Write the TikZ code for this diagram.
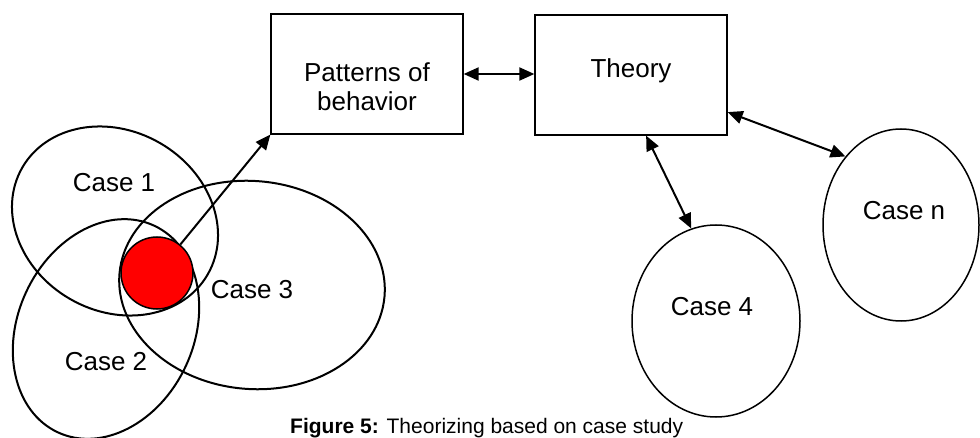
\documentclass[tikz,border=0pt]{standalone}
\usepackage{fontspec}
\setmainfont{Liberation Sans}
\usetikzlibrary{arrows.meta,shapes.geometric}
\begin{document}
\begin{tikzpicture}[x=1pt,y=-1pt,
  lbl/.style={font=\fontsize{26}{29}\selectfont, inner sep=0pt},
  box/.style={draw, line width=1.3pt, minimum width=192pt, minimum height=120pt, inner sep=0pt},
  oval/.style={draw, ellipse, line width=2pt, inner sep=0pt},
  dbl/.style={line width=2pt, {Triangle[length=15pt,width=13pt]}-{Triangle[length=15pt,width=13pt]}},
  one/.style={line width=2pt, -{Triangle[length=15pt,width=13pt]}}
]
\useasboundingbox (0,0) rectangle (980,438);
\node[box] (pat) at (367,74) {};
\node[box] (th) at (631,75) {};
\node[oval, minimum width=214pt, minimum height=180pt, rotate=-30] (c1) at (115,221) {};
\node[oval, minimum width=176pt, minimum height=228pt, rotate=-25] (c2) at (106,329) {};
\node[oval, minimum width=266pt, minimum height=208pt, rotate=-5] (c3) at (252,285) {};
\node[circle, draw, fill=red, line width=1.5pt, minimum size=72pt, inner sep=0pt] (red) at (157,273) {};
\node[oval, line width=1.5pt, minimum width=168pt, minimum height=192pt] (c4) at (716,321) {};
\node[oval, line width=1.5pt, minimum width=156pt, minimum height=192pt] (cn) at (901,225) {};

\node[lbl] (t1) at (114,183) {Case 1};
\node[lbl] (t2) at (106,362) {Case 2};
\node[lbl] (t3) at (252,290) {Case 3};
\node[lbl] (t4) at (712,307) {Case 4};
\node[lbl] (tn) at (904,211) {Case n};
\node[lbl, anchor=base] (tp1) at (367,82) {Patterns of};
\node[lbl, anchor=base] (tp2) at (367,111) {behavior};
\node[lbl, anchor=base] (tth) at (631,78) {Theory};
\node[anchor=base west, inner sep=0pt, font=\fontsize{21}{25}\selectfont] (cap) at (290,433) {\textbf{Figure 5:} Theorizing based on case study};

\draw[one] (red) -- (pat.south west);
\draw[dbl] (pat.east) -- (pat.east -| th.west);
\draw[dbl] (th.-76) -- (c4.105);
\draw[dbl] (th.-21) -- (cn.129);
\end{tikzpicture}
\end{document}
